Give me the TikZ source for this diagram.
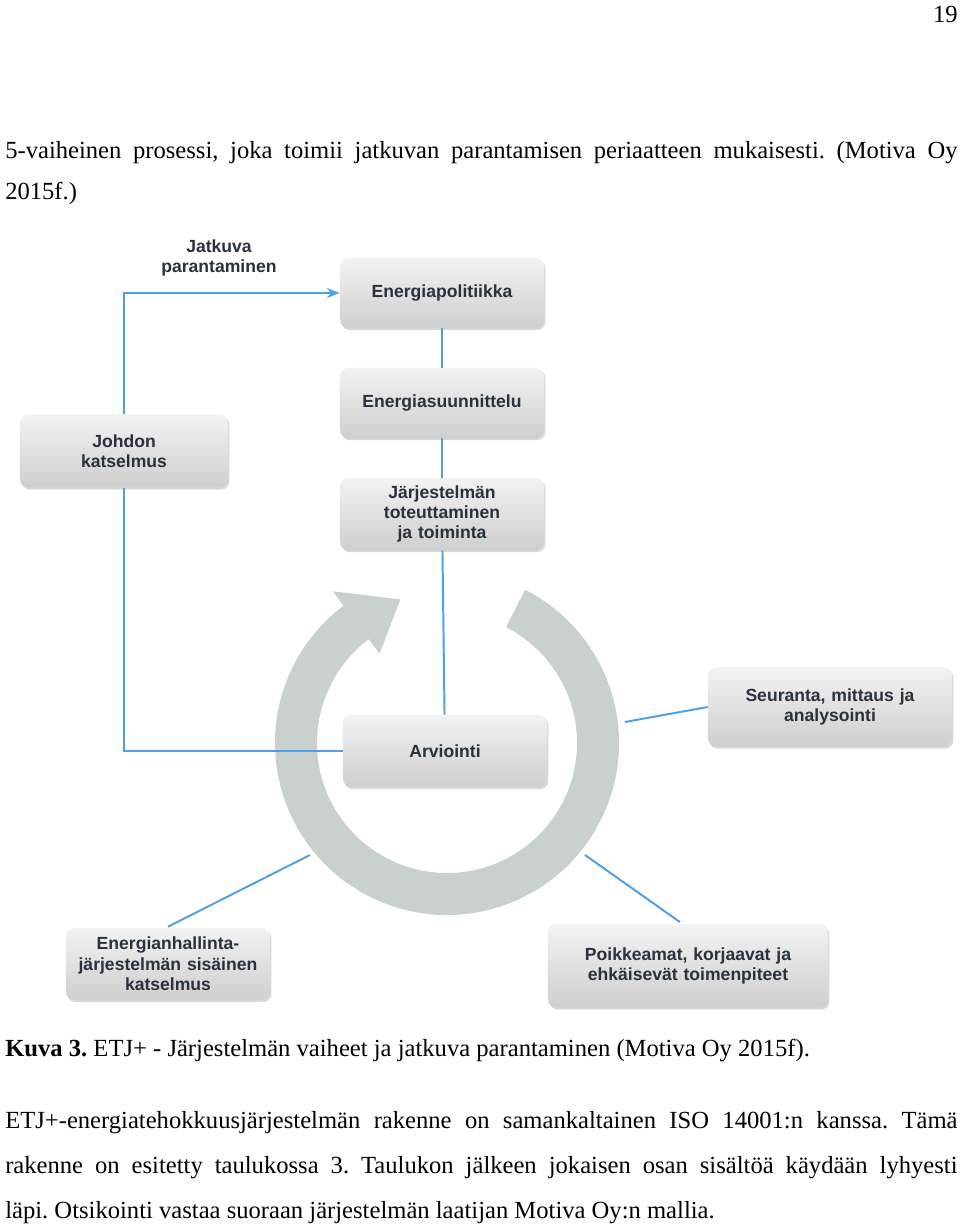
\documentclass[tikz,border=0pt]{standalone}
\usepackage{fontspec}
\setmainfont{Liberation Serif}
\setsansfont{Liberation Sans}
\usetikzlibrary{positioning,arrows.meta,shadows,calc}
\definecolor{linkblue}{RGB}{80,160,230}
\definecolor{boxtext}{RGB}{40,50,62}
\definecolor{ringgray}{RGB}{200,209,205}
\tikzset{
  phase/.style={draw=none, rounded corners=6pt, top color=gray!10, bottom color=gray!38,
    drop shadow={shadow xshift=1pt, shadow yshift=-1.5pt, opacity=.3},
    font=\sffamily\bfseries\fontsize{12.5}{14.5}\selectfont, text=boxtext, align=center,
    inner sep=0pt},
  link/.style={draw=linkblue, line width=1.4pt},
  bodyline/.style={anchor=west, inner sep=0pt, font=\fontsize{17.5}{20}\selectfont}
}
\newcommand{\jline}[1]{\makebox[23.8cm][s]{#1}}
\frenchspacing
\begin{document}
\begin{tikzpicture}[x=0.025cm, y=-0.025cm]
    \useasboundingbox[fill=white] (0,0) rectangle (960,1227);
    % page text
    \node[bodyline, anchor=east] (pagenum) at (958,14) {19};
    \node[bodyline] (intro1) at (5,153) {\jline{5-vaiheinen prosessi, joka toimii jatkuvan parantamisen periaatteen mukaisesti. (Motiva Oy}};
    \node[bodyline] (intro2) at (5,193) {2015f.)};
    % ring with arrow head
    \coordinate (ringc) at (447,743);
    \fill[ringgray] (ringc) ++(-63:172) arc[start angle=-63, end angle=233, radius=172]
        -- ($(ringc)+(233:190)$) -- ($(ringc)+(252:151)$)
        -- ($(ringc)+(233:112)$) -- ($(ringc)+(233:130)$)
        arc[start angle=233, end angle=-63, radius=130] -- cycle;
    % phases
    \node[phase, text width=5.1cm, minimum height=1.75cm] (policy) at (442,293) {Energiapolitiikka};
    \node[phase, text width=5.1cm, minimum height=1.75cm] (plan) at (442,403) {Energiasuunnittelu};
    \node[phase, text width=5.1cm, minimum height=1.8cm] (doing) at (442,514) {Järjestelmän\\toteuttaminen\\ja toiminta};
    \node[phase, text width=5.1cm, minimum height=1.8cm] (check) at (445,751) {Arviointi};
    \node[phase, text width=5.2cm, minimum height=1.82cm] (review) at (124,451) {Johdon\\katselmus};
    \node[phase, text width=6.1cm, minimum height=1.98cm] (monitor) at (830,707) {Seuranta, mittaus ja\\analysointi};
    \node[phase, text width=5.1cm, minimum height=1.8cm] (audit) at (168,964) {Energianhallinta-\\järjestelmän sisäinen\\katselmus};
    \node[phase, text width=7cm, minimum height=2.08cm] (actions) at (688,966) {Poikkeamat, korjaavat ja\\ehkäisevät toimenpiteet};
    \node[font=\sffamily\bfseries\fontsize{12.5}{14.5}\selectfont, text=boxtext, align=center] (cont) at (219,258) {Jatkuva\\parantaminen};
    % connectors
    \coordinate (ringtl) at (310,855);
    \coordinate (ringtr) at (585,855);
    \coordinate (ringr) at (625,722);
    \draw[link, -{Stealth[length=9pt,width=7pt]}] (review.north) |- (policy.west);
    \draw[link] (review.south) |- (check.west);
    \draw[link] (policy) -- (plan);
    \draw[link] (plan) -- (doing);
    \draw[link] (doing) -- (check);
    \draw[link] (monitor.west) -- (ringr);
    \draw[link] (audit.north) ++(0,-1) -- (ringtl);
    \draw[link] (actions.north) ++(-8,-2) -- (ringtr);
    % caption and text
    \node[bodyline] (caption) at (5,1050) {\textbf{Kuva 3.} ETJ+ - Järjestelmän vaiheet ja jatkuva parantaminen (Motiva Oy 2015f).};
    \node[bodyline] (para1) at (5,1123) {\jline{ETJ+-energiatehokkuusjärjestelmän rakenne on samankaltainen ISO 14001:n kanssa. Tämä}};
    \node[bodyline] (para2) at (5,1168) {\jline{rakenne on esitetty taulukossa 3. Taulukon jälkeen jokaisen osan sisältöä käydään lyhyesti}};
    \node[bodyline] (para3) at (5,1213) {läpi. Otsikointi vastaa suoraan järjestelmän laatijan Motiva Oy:n mallia.};
\end{tikzpicture}
\end{document}
